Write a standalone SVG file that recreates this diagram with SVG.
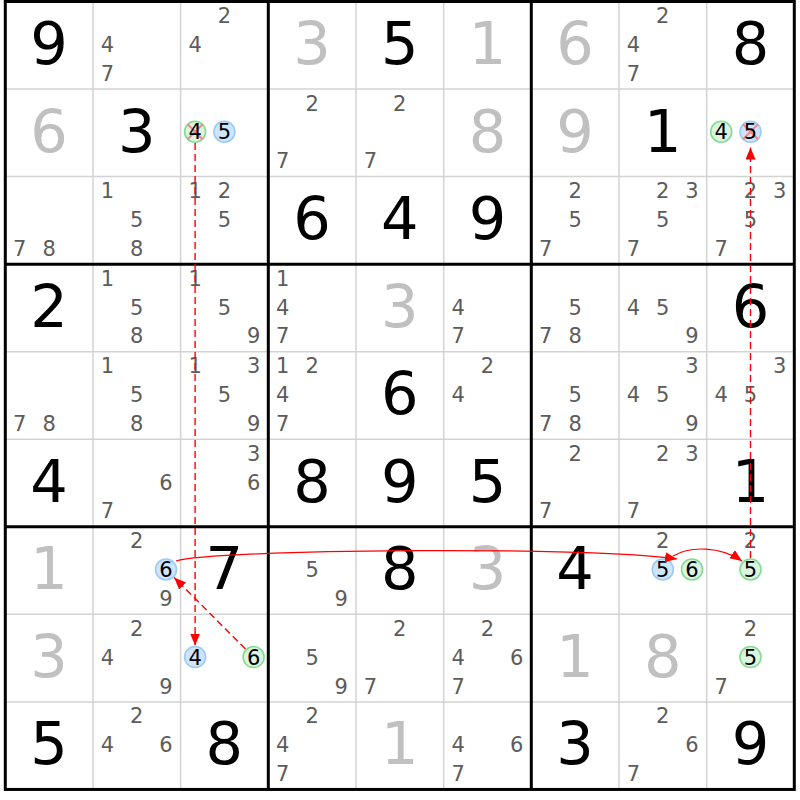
<svg xmlns="http://www.w3.org/2000/svg" width="800" height="800" viewBox="0 0 800 800">
<defs>
<style>
text{font-family:"DejaVu Sans","Liberation Sans",sans-serif;text-anchor:middle}
.G{font-size:59px;fill:#000}
.P{font-size:59px;fill:#c0c0c0}
.c{font-size:21px;fill:#5c5c5c}
.k{font-size:21px;fill:#000}
.bl{fill:#cfe5fb;stroke:#9ccbf5;stroke-width:1.6}
.gr{fill:#dcf5de;stroke:#86db92;stroke-width:1.6}
.x{stroke:#f08a8a;stroke-width:2}
.thin{stroke:#d3d3d3;stroke-width:1.5}
.thick{stroke:#000;stroke-width:3}
.dash{fill:none;stroke:#f00;stroke-width:1.4;stroke-dasharray:7,4}
.solid{fill:none;stroke:#f00;stroke-width:1.2}
</style>
<marker id="ah" markerUnits="userSpaceOnUse" markerWidth="12" markerHeight="10" refX="12" refY="5" orient="auto"><path d="M0,0L12,5L0,10z" fill="#f00"/></marker>
</defs>
<rect width="800" height="800" fill="#fff"/>
<g id="grid">
<path class="thin" d="M93,1.5V789.45M180.6,1.5V789.45M356,1.5V789.45M443.7,1.5V789.45M619,1.5V789.45M706.7,1.5V789.45M5.3,89.05H794.3M5.3,176.6H794.3M5.3,351.7H794.3M5.3,439.25H794.3M5.3,614.35H794.3M5.3,701.9H794.3"/>
<path class="thick" d="M268.3,1.5V789.45M531.3,1.5V789.45M5.3,264.15H794.3M5.3,526.8H794.3"/>
<rect class="thick" x="5.3" y="1.5" width="789" height="787.95" fill="none"/>
</g>
<!-- row 1 -->
<g id="r1c1" transform="translate(5.3,1.5)"><text class="G" x="43.8" y="62.5">9</text></g>
<g id="r1c2" transform="translate(93,1.5)"><text class="c" x="14.5" y="50.4">4</text><text class="c" x="14.5" y="79.2">7</text></g>
<g id="r1c3" transform="translate(180.6,1.5)"><text class="c" x="43.8" y="21.6">2</text><text class="c" x="14.5" y="50.4">4</text></g>
<g id="r1c4" transform="translate(268.3,1.5)"><text class="P" x="43.8" y="62.5">3</text></g>
<g id="r1c5" transform="translate(356,1.5)"><text class="G" x="43.8" y="62.5">5</text></g>
<g id="r1c6" transform="translate(443.7,1.5)"><text class="P" x="43.8" y="62.5">1</text></g>
<g id="r1c7" transform="translate(531.3,1.5)"><text class="P" x="43.8" y="62.5">6</text></g>
<g id="r1c8" transform="translate(619,1.5)"><text class="c" x="43.8" y="21.6">2</text><text class="c" x="14.5" y="50.4">4</text><text class="c" x="14.5" y="79.2">7</text></g>
<g id="r1c9" transform="translate(706.7,1.5)"><text class="G" x="43.8" y="62.5">8</text></g>
<!-- row 2 -->
<g id="r2c1" transform="translate(5.3,89.05)"><text class="P" x="43.8" y="62.5">6</text></g>
<g id="r2c2" transform="translate(93,89.05)"><text class="G" x="43.8" y="62.5">3</text></g>
<g id="r2c3" transform="translate(180.6,89.05)"><circle class="gr" cx="14.5" cy="42.7" r="10.5"/><path class="x" d="M7,35.2L22,50.2M22,35.2L7,50.2"/><text class="k" x="14.5" y="50.4">4</text><circle class="bl" cx="43.8" cy="42.7" r="10.5"/><text class="k" x="43.8" y="50.4">5</text></g>
<g id="r2c4" transform="translate(268.3,89.05)"><text class="c" x="43.8" y="21.6">2</text><text class="c" x="14.5" y="79.2">7</text></g>
<g id="r2c5" transform="translate(356,89.05)"><text class="c" x="43.8" y="21.6">2</text><text class="c" x="14.5" y="79.2">7</text></g>
<g id="r2c6" transform="translate(443.7,89.05)"><text class="P" x="43.8" y="62.5">8</text></g>
<g id="r2c7" transform="translate(531.3,89.05)"><text class="P" x="43.8" y="62.5">9</text></g>
<g id="r2c8" transform="translate(619,89.05)"><text class="G" x="43.8" y="62.5">1</text></g>
<g id="r2c9" transform="translate(706.7,89.05)"><circle class="gr" cx="14.5" cy="42.7" r="10.5"/><text class="k" x="14.5" y="50.4">4</text><circle class="bl" cx="43.8" cy="42.7" r="10.5"/><path class="x" d="M36.3,35.2L51.3,50.2M51.3,35.2L36.3,50.2"/><text class="k" x="43.8" y="50.4">5</text></g>
<!-- row 3 -->
<g id="r3c1" transform="translate(5.3,176.6)"><text class="c" x="14.5" y="79.2">7</text><text class="c" x="43.8" y="79.2">8</text></g>
<g id="r3c2" transform="translate(93,176.6)"><text class="c" x="14.5" y="21.6">1</text><text class="c" x="43.8" y="50.4">5</text><text class="c" x="43.8" y="79.2">8</text></g>
<g id="r3c3" transform="translate(180.6,176.6)"><text class="c" x="14.5" y="21.6">1</text><text class="c" x="43.8" y="21.6">2</text><text class="c" x="43.8" y="50.4">5</text></g>
<g id="r3c4" transform="translate(268.3,176.6)"><text class="G" x="43.8" y="62.5">6</text></g>
<g id="r3c5" transform="translate(356,176.6)"><text class="G" x="43.8" y="62.5">4</text></g>
<g id="r3c6" transform="translate(443.7,176.6)"><text class="G" x="43.8" y="62.5">9</text></g>
<g id="r3c7" transform="translate(531.3,176.6)"><text class="c" x="43.8" y="21.6">2</text><text class="c" x="43.8" y="50.4">5</text><text class="c" x="14.5" y="79.2">7</text></g>
<g id="r3c8" transform="translate(619,176.6)"><text class="c" x="43.8" y="21.6">2</text><text class="c" x="73" y="21.6">3</text><text class="c" x="43.8" y="50.4">5</text><text class="c" x="14.5" y="79.2">7</text></g>
<g id="r3c9" transform="translate(706.7,176.6)"><text class="c" x="43.8" y="21.6">2</text><text class="c" x="73" y="21.6">3</text><text class="c" x="43.8" y="50.4">5</text><text class="c" x="14.5" y="79.2">7</text></g>
<!-- row 4 -->
<g id="r4c1" transform="translate(5.3,264.15)"><text class="G" x="43.8" y="62.5">2</text></g>
<g id="r4c2" transform="translate(93,264.15)"><text class="c" x="14.5" y="21.6">1</text><text class="c" x="43.8" y="50.4">5</text><text class="c" x="43.8" y="79.2">8</text></g>
<g id="r4c3" transform="translate(180.6,264.15)"><text class="c" x="14.5" y="21.6">1</text><text class="c" x="43.8" y="50.4">5</text><text class="c" x="73" y="79.2">9</text></g>
<g id="r4c4" transform="translate(268.3,264.15)"><text class="c" x="14.5" y="21.6">1</text><text class="c" x="14.5" y="50.4">4</text><text class="c" x="14.5" y="79.2">7</text></g>
<g id="r4c5" transform="translate(356,264.15)"><text class="P" x="43.8" y="62.5">3</text></g>
<g id="r4c6" transform="translate(443.7,264.15)"><text class="c" x="14.5" y="50.4">4</text><text class="c" x="14.5" y="79.2">7</text></g>
<g id="r4c7" transform="translate(531.3,264.15)"><text class="c" x="43.8" y="50.4">5</text><text class="c" x="14.5" y="79.2">7</text><text class="c" x="43.8" y="79.2">8</text></g>
<g id="r4c8" transform="translate(619,264.15)"><text class="c" x="14.5" y="50.4">4</text><text class="c" x="43.8" y="50.4">5</text><text class="c" x="73" y="79.2">9</text></g>
<g id="r4c9" transform="translate(706.7,264.15)"><text class="G" x="43.8" y="62.5">6</text></g>
<!-- row 5 -->
<g id="r5c1" transform="translate(5.3,351.7)"><text class="c" x="14.5" y="79.2">7</text><text class="c" x="43.8" y="79.2">8</text></g>
<g id="r5c2" transform="translate(93,351.7)"><text class="c" x="14.5" y="21.6">1</text><text class="c" x="43.8" y="50.4">5</text><text class="c" x="43.8" y="79.2">8</text></g>
<g id="r5c3" transform="translate(180.6,351.7)"><text class="c" x="14.5" y="21.6">1</text><text class="c" x="73" y="21.6">3</text><text class="c" x="43.8" y="50.4">5</text><text class="c" x="73" y="79.2">9</text></g>
<g id="r5c4" transform="translate(268.3,351.7)"><text class="c" x="14.5" y="21.6">1</text><text class="c" x="43.8" y="21.6">2</text><text class="c" x="14.5" y="50.4">4</text><text class="c" x="14.5" y="79.2">7</text></g>
<g id="r5c5" transform="translate(356,351.7)"><text class="G" x="43.8" y="62.5">6</text></g>
<g id="r5c6" transform="translate(443.7,351.7)"><text class="c" x="43.8" y="21.6">2</text><text class="c" x="14.5" y="50.4">4</text></g>
<g id="r5c7" transform="translate(531.3,351.7)"><text class="c" x="43.8" y="50.4">5</text><text class="c" x="14.5" y="79.2">7</text><text class="c" x="43.8" y="79.2">8</text></g>
<g id="r5c8" transform="translate(619,351.7)"><text class="c" x="73" y="21.6">3</text><text class="c" x="14.5" y="50.4">4</text><text class="c" x="43.8" y="50.4">5</text><text class="c" x="73" y="79.2">9</text></g>
<g id="r5c9" transform="translate(706.7,351.7)"><text class="c" x="73" y="21.6">3</text><text class="c" x="14.5" y="50.4">4</text><text class="c" x="43.8" y="50.4">5</text></g>
<!-- row 6 -->
<g id="r6c1" transform="translate(5.3,439.25)"><text class="G" x="43.8" y="62.5">4</text></g>
<g id="r6c2" transform="translate(93,439.25)"><text class="c" x="73" y="50.4">6</text><text class="c" x="14.5" y="79.2">7</text></g>
<g id="r6c3" transform="translate(180.6,439.25)"><text class="c" x="73" y="21.6">3</text><text class="c" x="73" y="50.4">6</text></g>
<g id="r6c4" transform="translate(268.3,439.25)"><text class="G" x="43.8" y="62.5">8</text></g>
<g id="r6c5" transform="translate(356,439.25)"><text class="G" x="43.8" y="62.5">9</text></g>
<g id="r6c6" transform="translate(443.7,439.25)"><text class="G" x="43.8" y="62.5">5</text></g>
<g id="r6c7" transform="translate(531.3,439.25)"><text class="c" x="43.8" y="21.6">2</text><text class="c" x="14.5" y="79.2">7</text></g>
<g id="r6c8" transform="translate(619,439.25)"><text class="c" x="43.8" y="21.6">2</text><text class="c" x="73" y="21.6">3</text><text class="c" x="14.5" y="79.2">7</text></g>
<g id="r6c9" transform="translate(706.7,439.25)"><text class="G" x="43.8" y="62.5">1</text></g>
<!-- row 7 -->
<g id="r7c1" transform="translate(5.3,526.8)"><text class="P" x="43.8" y="62.5">1</text></g>
<g id="r7c2" transform="translate(93,526.8)"><text class="c" x="43.8" y="21.6">2</text><circle class="bl" cx="73" cy="42.7" r="10.5"/><text class="k" x="73" y="50.4">6</text><text class="c" x="73" y="79.2">9</text></g>
<g id="r7c3" transform="translate(180.6,526.8)"><text class="G" x="43.8" y="62.5">7</text></g>
<g id="r7c4" transform="translate(268.3,526.8)"><text class="c" x="43.8" y="50.4">5</text><text class="c" x="73" y="79.2">9</text></g>
<g id="r7c5" transform="translate(356,526.8)"><text class="G" x="43.8" y="62.5">8</text></g>
<g id="r7c6" transform="translate(443.7,526.8)"><text class="P" x="43.8" y="62.5">3</text></g>
<g id="r7c7" transform="translate(531.3,526.8)"><text class="G" x="43.8" y="62.5">4</text></g>
<g id="r7c8" transform="translate(619,526.8)"><text class="c" x="43.8" y="21.6">2</text><circle class="bl" cx="43.8" cy="42.7" r="10.5"/><text class="k" x="43.8" y="50.4">5</text><circle class="gr" cx="73" cy="42.7" r="10.5"/><text class="k" x="73" y="50.4">6</text></g>
<g id="r7c9" transform="translate(706.7,526.8)"><text class="c" x="43.8" y="21.6">2</text><circle class="gr" cx="43.8" cy="42.7" r="10.5"/><text class="k" x="43.8" y="50.4">5</text></g>
<!-- row 8 -->
<g id="r8c1" transform="translate(5.3,614.35)"><text class="P" x="43.8" y="62.5">3</text></g>
<g id="r8c2" transform="translate(93,614.35)"><text class="c" x="43.8" y="21.6">2</text><text class="c" x="14.5" y="50.4">4</text><text class="c" x="73" y="79.2">9</text></g>
<g id="r8c3" transform="translate(180.6,614.35)"><circle class="bl" cx="14.5" cy="42.7" r="10.5"/><text class="k" x="14.5" y="50.4">4</text><circle class="gr" cx="73" cy="42.7" r="10.5"/><text class="k" x="73" y="50.4">6</text></g>
<g id="r8c4" transform="translate(268.3,614.35)"><text class="c" x="43.8" y="50.4">5</text><text class="c" x="73" y="79.2">9</text></g>
<g id="r8c5" transform="translate(356,614.35)"><text class="c" x="43.8" y="21.6">2</text><text class="c" x="14.5" y="79.2">7</text></g>
<g id="r8c6" transform="translate(443.7,614.35)"><text class="c" x="43.8" y="21.6">2</text><text class="c" x="14.5" y="50.4">4</text><text class="c" x="73" y="50.4">6</text><text class="c" x="14.5" y="79.2">7</text></g>
<g id="r8c7" transform="translate(531.3,614.35)"><text class="P" x="43.8" y="62.5">1</text></g>
<g id="r8c8" transform="translate(619,614.35)"><text class="P" x="43.8" y="62.5">8</text></g>
<g id="r8c9" transform="translate(706.7,614.35)"><text class="c" x="43.8" y="21.6">2</text><circle class="gr" cx="43.8" cy="42.7" r="10.5"/><text class="k" x="43.8" y="50.4">5</text><text class="c" x="14.5" y="79.2">7</text></g>
<!-- row 9 -->
<g id="r9c1" transform="translate(5.3,701.9)"><text class="G" x="43.8" y="62.5">5</text></g>
<g id="r9c2" transform="translate(93,701.9)"><text class="c" x="43.8" y="21.6">2</text><text class="c" x="14.5" y="50.4">4</text><text class="c" x="73" y="50.4">6</text></g>
<g id="r9c3" transform="translate(180.6,701.9)"><text class="G" x="43.8" y="62.5">8</text></g>
<g id="r9c4" transform="translate(268.3,701.9)"><text class="c" x="43.8" y="21.6">2</text><text class="c" x="14.5" y="50.4">4</text><text class="c" x="14.5" y="79.2">7</text></g>
<g id="r9c5" transform="translate(356,701.9)"><text class="P" x="43.8" y="62.5">1</text></g>
<g id="r9c6" transform="translate(443.7,701.9)"><text class="c" x="14.5" y="50.4">4</text><text class="c" x="73" y="50.4">6</text><text class="c" x="14.5" y="79.2">7</text></g>
<g id="r9c7" transform="translate(531.3,701.9)"><text class="G" x="43.8" y="62.5">3</text></g>
<g id="r9c8" transform="translate(619,701.9)"><text class="c" x="43.8" y="21.6">2</text><text class="c" x="73" y="50.4">6</text><text class="c" x="14.5" y="79.2">7</text></g>
<g id="r9c9" transform="translate(706.7,701.9)"><text class="G" x="43.8" y="62.5">9</text></g>
<g id="connectors">
<path class="dash" d="M195.1,143L195.1,645.5" marker-end="url(#ah)"/>
<path class="dash" d="M245.5,649L174.2,577.6" marker-end="url(#ah)"/>
<path class="solid" d="M176,561C215,549 590,546 677,559" marker-end="url(#ah)"/>
<path class="solid" d="M673,556C690,546 720,546 742,561" marker-end="url(#ah)"/>
<path class="dash" d="M750.5,558L750.5,147.5" marker-end="url(#ah)"/>
</g>
</svg>
